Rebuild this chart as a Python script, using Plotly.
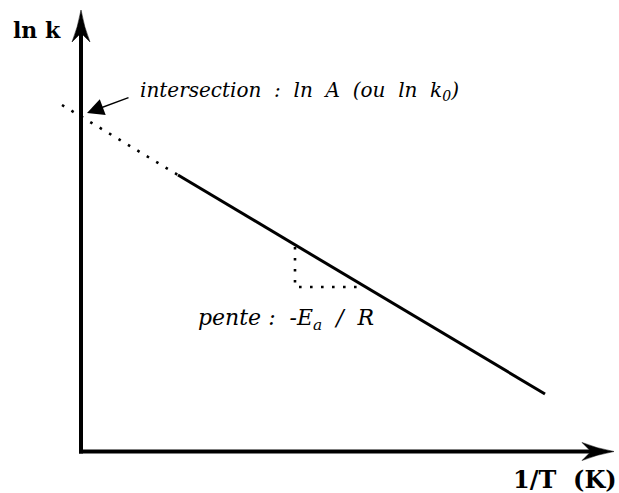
import plotly.graph_objects as go

# Arrhenius sketch: ln k versus 1/T, arbitrary units (origin where the axes meet)
x_axis_end = 5.33     # tip of the 1/T axis arrow
y_axis_end = 4.415    # tip of the ln k axis arrow

line_x = [0.97, 4.64]          # measured range (solid)
line_y = [2.765, 0.575]
extrap_x = [-0.19, 0.97]       # extrapolation to 1/T = 0 (dotted)
extrap_y = [3.465, 2.765]
slope_x = [2.14, 2.14, 2.82]   # rise / run triangle
slope_y = [2.045, 1.645, 1.645]
intercept_x, intercept_y = 0.06, 3.385
label_from_x, label_from_y = 0.49, 3.545

PX = 0.01  # one screen pixel in data units
SERIF = "DejaVu Serif"
SP = "\u00a0"

fig = go.Figure()

# axes
fig.add_trace(go.Scatter(x=[0, 0], y=[-0.02, y_axis_end - 20 * PX], mode="lines",
                         line=dict(color="black", width=4), hoverinfo="skip"))
fig.add_trace(go.Scatter(x=[-0.02, x_axis_end - 20 * PX], y=[0, 0], mode="lines",
                         line=dict(color="black", width=4), hoverinfo="skip"))

# data line and its extrapolation
fig.add_trace(go.Scatter(x=extrap_x, y=extrap_y, mode="lines",
                         line=dict(color="black", width=2.6, dash="2.6px,8.4px"), hoverinfo="skip"))
fig.add_trace(go.Scatter(x=line_x, y=line_y, mode="lines",
                         line=dict(color="black", width=3), hoverinfo="skip"))
fig.add_trace(go.Scatter(x=slope_x, y=slope_y, mode="lines",
                         line=dict(color="black", width=2.6, dash="2.6px,8.4px"), hoverinfo="skip"))


def arrow_head(tx, ty, dx, dy, length=32, half=9, notch=23):
    """Filled stealth arrow head with tip at (tx, ty) pointing along (dx, dy)."""
    px, py = -dy, dx
    L, H, N = length * PX, half * PX, notch * PX
    bx, by = tx - dx * L, ty - dy * L
    lx, ly = bx + px * H, by + py * H
    rx, ry = bx - px * H, by - py * H
    nx, ny = tx - dx * N, ty - dy * N
    c1x, c1y = tx - dx * L * 0.55 + px * H * 0.35, ty - dy * L * 0.55 + py * H * 0.35
    c2x, c2y = tx - dx * L * 0.55 - px * H * 0.35, ty - dy * L * 0.55 - py * H * 0.35
    return (f"M {tx},{ty} Q {c1x},{c1y} {lx},{ly} L {nx},{ny} L {rx},{ry} "
            f"Q {c2x},{c2y} {tx},{ty} Z")


for path in (arrow_head(0, y_axis_end, 0, 1), arrow_head(x_axis_end, 0, 1, 0)):
    fig.add_shape(type="path", path=path, xref="x", yref="y",
                  fillcolor="black", line=dict(color="black", width=0.5))

# labels
fig.add_annotation(x=intercept_x, y=intercept_y, ax=label_from_x, ay=label_from_y,
                   axref="x", ayref="y", text="", showarrow=True,
                   arrowhead=2, arrowsize=2.4, arrowwidth=1.4, arrowcolor="black")

intersect_text = SP.join(["intersection", "", ":", "", "ln", "", "A", "", "(ou", "", "ln", "",
                          "k<sub>0</sub>)"])
fig.add_annotation(x=0.57, y=3.605, xanchor="left", yanchor="middle", showarrow=False,
                   text=f"<i>{intersect_text}</i>",
                   font=dict(family=SERIF, size=20, color="black"))

slope_text = SP.join(["pente", ":", "", "-E<sub>a</sub>", "", "/", "", "R"])
fig.add_annotation(x=1.15, y=1.32, xanchor="left", yanchor="middle", showarrow=False,
                   text=f"<i>{slope_text}</i>",
                   font=dict(family=SERIF, size=22, color="black"))

fig.add_annotation(x=-0.70, y=4.22, xanchor="left", yanchor="middle", showarrow=False,
                   text=f"<b>ln{SP}k</b>", font=dict(family=SERIF, size=22, color="black"))
fig.add_annotation(x=5.38, y=-0.28, xanchor="right", yanchor="middle", showarrow=False,
                   text=f"<b>1/T{SP}{SP}(K)</b>", font=dict(family=SERIF, size=24, color="black"))

fig.update_layout(
    width=619, height=493, margin=dict(l=0, r=0, t=0, b=0),
    paper_bgcolor="white", plot_bgcolor="white", showlegend=False,
    xaxis=dict(range=[-0.81, 5.38], visible=False, fixedrange=True),
    yaxis=dict(range=[-0.415, 4.515], visible=False, fixedrange=True),
)

fig.write_html("out.html")
